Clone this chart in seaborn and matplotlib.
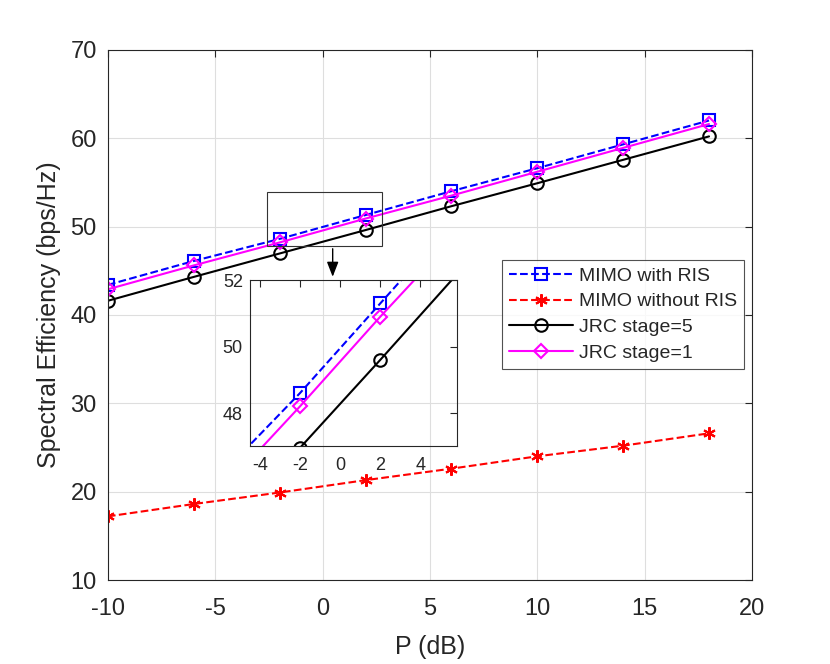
import numpy as np
import pandas as pd
import matplotlib
matplotlib.use('Agg')
import matplotlib.pyplot as plt
import seaborn as sns
from matplotlib.patches import Rectangle

# values
power_db = [-10, -6, -2, 2, 6, 10, 14, 18]
mimo_ris = [43.4, 46.1, 48.6, 51.3, 54.0, 56.6, 59.3, 62.0]
mimo_no_ris = [17.2, 18.6, 19.9, 21.3, 22.6, 24.0, 25.2, 26.6]
jrc_stage5 = [41.6, 44.3, 46.95, 49.6, 52.3, 54.9, 57.55, 60.2]
jrc_stage1 = [42.9, 45.6, 48.2, 50.9, 53.5, 56.2, 58.9, 61.6]

series_names = ['MIMO with RIS', 'MIMO without RIS', 'JRC stage=5', 'JRC stage=1']
series_vals = [mimo_ris, mimo_no_ris, jrc_stage5, jrc_stage1]

df = pd.DataFrame({
    'P': power_db * 4,
    'SE': sum(series_vals, []),
    'scheme': np.repeat(series_names, len(power_db)),
})

sns.set_style('white')
plt.rcParams['font.family'] = ['Liberation Sans', 'DejaVu Sans']
plt.rcParams['axes.unicode_minus'] = False

colors = {'MIMO with RIS': 'blue', 'MIMO without RIS': 'red',
          'JRC stage=5': 'black', 'JRC stage=1': 'magenta'}
asterisk = (6, 2, 0)
styles = {
    'MIMO with RIS': dict(ls='--', marker='s', ms=8),
    'MIMO without RIS': dict(ls='--', marker=asterisk, ms=9),
    'JRC stage=5': dict(ls='-', marker='o', ms=9),
    'JRC stage=1': dict(ls='-', marker='D', ms=7.5),
}


def draw(ax, lw=1.5):
    for name in series_names:
        st = styles[name]
        sub = df[df['scheme'] == name]
        sns.lineplot(data=sub, x='P', y='SE', ax=ax, color=colors[name],
                     linestyle=st['ls'], marker=st['marker'], markersize=st['ms'],
                     markerfacecolor='none' if name != 'MIMO without RIS' else colors[name],
                     markeredgecolor=colors[name], markeredgewidth=1.5,
                     linewidth=lw, label=name, dashes=False, estimator=None)


def matlab_box(ax, size, pad):
    for s in ax.spines.values():
        s.set_color('#262626')
        s.set_linewidth(0.8)
    ax.tick_params(direction='in', top=True, right=True, labelsize=size,
                   colors='#262626', length=5, width=0.8)
    ax.tick_params(axis='x', pad=pad[0])
    ax.tick_params(axis='y', pad=pad[1])


fig = plt.figure(figsize=(8.3, 6.64), dpi=100)
ax = fig.add_axes([0.130, 0.1265, 0.776, 0.7985])
draw(ax)
ax.set_xlim(-10, 20)
ax.set_ylim(10, 70)
ax.set_xticks(range(-10, 21, 5))
ax.set_yticks(range(10, 71, 10))
ax.grid(True, color='#dedede', linewidth=0.8)
matlab_box(ax, 17, (13, 8))
ax.set_xlabel('P (dB)', fontsize=18, color='#262626', labelpad=11)
ax.set_ylabel('Spectral Efficiency (bps/Hz)', fontsize=18, color='#262626',
              labelpad=7)

leg = ax.legend(loc='upper left', bbox_to_anchor=(0.612, 0.603), fontsize=14,
                frameon=True, fancybox=False, edgecolor='#262626',
                handlelength=3.3, borderpad=0.35, labelspacing=0.42,
                handletextpad=0.3, borderaxespad=0)
leg.get_frame().set_linewidth(0.8)

# zoom box and arrow
ax.add_patch(Rectangle((-2.61, 47.8), 5.4, 6.1, fill=False,
                       edgecolor='#333333', linewidth=0.8, zorder=5))
ax.annotate('', xy=(0.47, 44.0), xytext=(0.47, 47.8),
            arrowprops=dict(arrowstyle='-|>,head_width=0.35,head_length=0.9',
                            color='black', lw=1.0), zorder=6)

# inset
axin = fig.add_axes([0.301, 0.328, 0.249, 0.250])
axin.set_facecolor('none')
draw(axin)
axin.set_xlim(-4.5, 5.8)
axin.set_ylim(47, 52)
axin.set_xticks([-4, -2, 0, 2, 4])
axin.set_yticks([48, 50, 52])
matlab_box(axin, 13, (8, 5))
axin.set_xlabel('')
axin.set_ylabel('')
if axin.get_legend():
    axin.get_legend().remove()

fig.savefig('out.png', dpi=100)
